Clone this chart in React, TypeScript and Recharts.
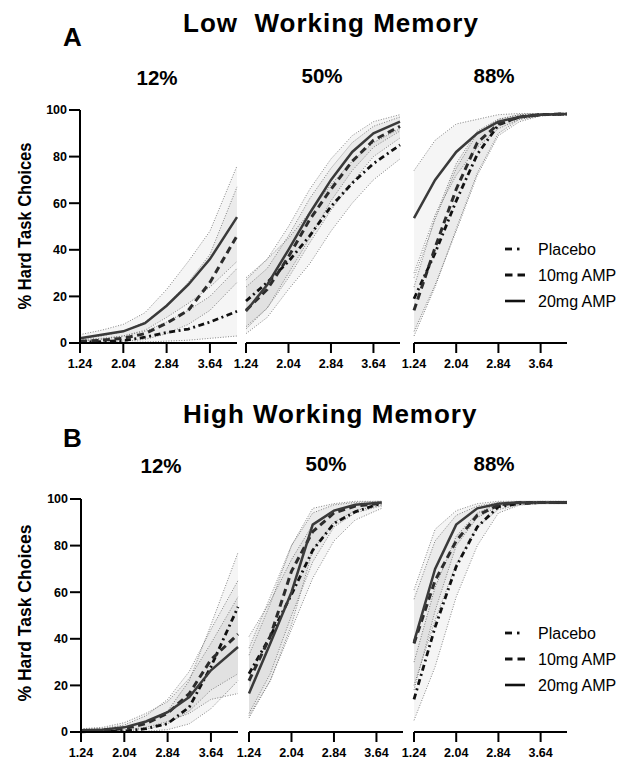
import React from 'react';
import { ComposedChart, Line, Area, XAxis, YAxis } from 'recharts';

const FONT = '"Liberation Sans", Arial, Helvetica, sans-serif';

// ---------- axis ticks / x positions ----------
const xTicks = [1.24, 2.04, 2.84, 3.64];
const yTicks = [0, 20, 40, 60, 80, 100];
const xsLong = [1.24, 1.64, 2.04, 2.44, 2.84, 3.24, 3.64, 4.14];
const xsShort = [1.24, 1.64, 2.04, 2.44, 2.84, 3.24, 3.64, 3.74];

const panelTitles = ['12%', '50%', '88%'];
const seriesNames = ['Placebo', '10mg AMP', '20mg AMP'];

// ---------- Low working memory ----------
const low12Placebo = { mean: [0.3, 0.6, 1, 2.5, 4.5, 6, 9, 13.6], lo: [0, 0, 0.2, 0.4, 0.8, 1.2, 2, 3], hi: [1.5, 2, 3, 5, 9, 14, 20, 32] };
const low12Amp10 = { mean: [0.7, 1.2, 2, 4, 8.5, 14, 26, 46], lo: [0.2, 0.4, 0.8, 1.5, 4, 8, 14, 26], hi: [2, 3, 5, 9, 16, 26, 38, 67] };
const low12Amp20 = { mean: [2, 3.5, 5, 8.5, 16, 25, 36, 54], lo: [0.8, 1.5, 3, 5.5, 11, 17, 24, 35], hi: [3.6, 5.5, 8, 13, 23, 35, 48, 76] };

const low50Placebo = { mean: [18, 26, 35, 46, 58.6, 68.6, 77, 85], lo: [4, 11, 23, 34, 48, 60, 70, 79], hi: [28, 36, 45, 56, 68, 78, 86, 92] };
const low50Amp10 = { mean: [14, 23, 37, 53, 66, 78, 87, 93], lo: [7, 15, 28, 43, 57, 69, 80, 88], hi: [24, 32, 46, 62, 75, 86, 93, 97] };
const low50Amp20 = { mean: [13.6, 25, 40, 55.7, 70, 82, 90, 95], lo: [6, 15, 30, 45, 61, 74, 84, 91], hi: [27, 36, 50, 66, 79, 89, 95, 98] };

const low88Placebo = { mean: [19, 38.6, 61, 81, 93.6, 97, 98, 98.3], lo: [5, 25, 48, 72, 89, 95, 97.5, 98], hi: [28, 53, 75, 90, 96, 98, 98.5, 98.5] };
const low88Amp10 = { mean: [14, 41, 66, 86, 94, 97, 98, 98.3], lo: [3, 24, 49, 73, 90, 96, 97.5, 98], hi: [24, 54, 77, 91, 96, 98, 98.5, 98.5] };
const low88Amp20 = { mean: [53.6, 70, 82, 90, 95, 97, 98, 98.3], lo: [30, 55, 72, 84, 92, 96, 97.5, 98], hi: [74, 87, 94, 96, 98, 98.5, 98.5, 98.5] };

// ---------- High working memory ----------
const high12Placebo = { mean: [0.1, 0.2, 0.4, 1.4, 3.6, 10.7, 28, 53.7], lo: [0, 0, 0.1, 0.3, 1, 3.5, 10, 22], hi: [1, 1.2, 2, 4, 9, 22, 46, 77] };
const high12Amp10 = { mean: [0.4, 0.8, 1.4, 3.6, 8, 16.5, 31, 42], lo: [0.1, 0.2, 0.4, 1.2, 3.5, 9, 18, 25], hi: [1.2, 1.5, 3, 7, 14, 26, 44, 65] };
const high12Amp20 = { mean: [0.7, 1, 2, 4.5, 8.5, 15, 26.5, 36.5], lo: [0.2, 0.4, 0.8, 2, 4.5, 8, 14, 16.5], hi: [1.4, 2, 4, 8, 13, 23, 38, 58] };

const high50Placebo = { mean: [25, 41, 59, 78, 89.5, 94.5, 97.5, 98], lo: [7, 22, 44, 66, 82, 91, 95, 96], hi: [41, 56, 74, 89, 95, 97.5, 98.5, 98.7] };
const high50Amp10 = { mean: [22, 41, 69, 86, 94, 97, 98, 98.3], lo: [8, 25, 50, 73, 88, 94, 96.5, 97], hi: [36, 58, 80, 94, 97.5, 98.5, 99, 99] };
const high50Amp20 = { mean: [16.5, 38, 60, 89, 95, 97.5, 98.3, 98.5], lo: [6, 22, 46, 78, 90, 95, 97, 97.5], hi: [33, 55, 80, 96, 98, 99, 99, 99] };

const high88Placebo = { mean: [14, 45, 71, 88, 96.7, 98, 98.5, 98.5], lo: [5, 28, 58, 80, 94, 97.4, 98, 98], hi: [30, 62, 84, 94, 98, 98.7, 99, 99] };
const high88Amp10 = { mean: [38, 65, 82, 93, 97.4, 98.5, 98.5, 98.5], lo: [20, 48, 72, 88, 95.5, 97.5, 98, 98], hi: [57, 82, 93, 97, 98.5, 99, 99, 99] };
const high88Amp20 = { mean: [38.7, 70, 89, 96, 98, 98.5, 98.5, 98.5], lo: [18, 52, 80, 92, 97, 98, 98.3, 98.3], hi: [61, 87, 95, 98, 99, 99, 99, 99] };

type Group = { mean: number[]; lo: number[]; hi: number[] };

function buildRows(xs: number[], p: Group, a10: Group, a20: Group) {
  return xs.map((x, i) => ({
    x,
    p: p.mean[i],
    a10: a10.mean[i],
    a20: a20.mean[i],
    pB: [p.lo[i], p.hi[i]],
    a10B: [a10.lo[i], a10.hi[i]],
    a20B: [a20.lo[i], a20.hi[i]],
  }));
}

const STYLE = {
  p: { color: '#111', dash: '6 3.5 2 3.5', width: 2.8 },
  a10: { color: '#2c2c2c', dash: '7 4.5', width: 3 },
  a20: { color: '#3a3a3a', dash: undefined as string | undefined, width: 2.5 },
};

const YW = 50;
const MT = 10;
const MR = 5;
const XH = 40;

function Panel(props: { x0: number; y100: number; plotW: number; plotH: number; rows: any[]; showY: boolean }) {
  const { x0, y100, plotW, plotH, rows, showY } = props;
  const tickStyle = { fill: '#000', fontSize: 12.5, fontWeight: 'bold', fontFamily: FONT };
  const band = (key: string) => (
    <Area
      key={key}
      dataKey={key}
      type="linear"
      stroke="#666"
      strokeWidth={0.8}
      strokeDasharray="1 1.6"
      fill="#000"
      fillOpacity={0.04}
      isAnimationActive={false}
      dot={false}
      activeDot={false}
    />
  );
  const line = (key: 'p' | 'a10' | 'a20') => (
    <Line
      key={key}
      dataKey={key}
      type="linear"
      stroke={STYLE[key].color}
      strokeWidth={STYLE[key].width}
      strokeDasharray={STYLE[key].dash}
      dot={false}
      activeDot={false}
      isAnimationActive={false}
    />
  );
  return (
    <div style={{ position: 'absolute', left: x0 - YW, top: y100 - MT }}>
      <ComposedChart
        width={plotW + YW + MR}
        height={plotH + MT + XH}
        data={rows}
        margin={{ top: MT, right: MR, bottom: 0, left: showY ? 0 : YW }}
      >
        <XAxis
          dataKey="x"
          type="number"
          domain={[1.24, 4.14]}
          ticks={xTicks}
          interval={0}
          tickFormatter={(v: number) => v.toFixed(2)}
          tick={tickStyle}
          tickSize={10}
          tickMargin={6}
          height={XH}
          axisLine={{ stroke: '#000', strokeWidth: 2 }}
          tickLine={{ stroke: '#000', strokeWidth: 2 }}
        />
        <YAxis
          type="number"
          domain={[0, 100]}
          ticks={yTicks}
          interval={0}
          hide={!showY}
          width={YW}
          tick={tickStyle}
          tickSize={11}
          tickMargin={2}
          axisLine={{ stroke: '#000', strokeWidth: 2 }}
          tickLine={{ stroke: '#000', strokeWidth: 2 }}
        />
        {band('pB')}
        {band('a10B')}
        {band('a20B')}
        {line('p')}
        {line('a10')}
        {line('a20')}
      </ComposedChart>
    </div>
  );
}

function LegendBlock(props: { x: number; y: number }) {
  const { x, y } = props;
  const rowGap = 26;
  return (
    <g>
      {seriesNames.map((name, i) => {
        const cy = y + i * rowGap;
        let sample;
        if (i === 0) {
          sample = (
            <g>
              <line x1={x} y1={cy} x2={x + 7} y2={cy} stroke="#111" strokeWidth={2.8} />
              <line x1={x + 12} y1={cy} x2={x + 14.5} y2={cy} stroke="#111" strokeWidth={2.8} />
            </g>
          );
        } else if (i === 1) {
          sample = (
            <g>
              <line x1={x} y1={cy} x2={x + 7.5} y2={cy} stroke="#111" strokeWidth={3} />
              <line x1={x + 12.5} y1={cy} x2={x + 20} y2={cy} stroke="#111" strokeWidth={3} />
            </g>
          );
        } else {
          sample = <line x1={x} y1={cy} x2={x + 20} y2={cy} stroke="#111" strokeWidth={2.6} />;
        }
        return (
          <g key={name}>
            {sample}
            <text x={x + 33} y={cy + 5.5} fontSize={16} fontFamily={FONT} fill="#000">
              {name}
            </text>
          </g>
        );
      })}
    </g>
  );
}

export default function App() {
  const lowRows = [
    buildRows(xsLong, low12Placebo, low12Amp10, low12Amp20),
    buildRows(xsLong, low50Placebo, low50Amp10, low50Amp20),
    buildRows(xsLong, low88Placebo, low88Amp10, low88Amp20),
  ];
  const highRows = [
    buildRows(xsLong, high12Placebo, high12Amp10, high12Amp20),
    buildRows(xsShort, high50Placebo, high50Amp10, high50Amp20),
    buildRows(xsLong, high88Placebo, high88Amp10, high88Amp20),
  ];
  const topX0 = [80, 246, 414];
  const topW = [157, 154, 153];
  const botX0 = [81, 249, 414];
  const botW = [157, 154, 153];
  const topTitleX = [157, 322, 494];
  const botTitleX = [161, 326, 494];

  return (
    <div style={{ position: 'absolute', left: 0, top: 0, width: 619, height: 760, background: '#fff', fontFamily: FONT }}>
      {lowRows.map((rows, i) => (
        <Panel key={'l' + i} x0={topX0[i]} y100={110} plotW={topW[i]} plotH={233} rows={rows} showY={i === 0} />
      ))}
      {highRows.map((rows, i) => (
        <Panel key={'h' + i} x0={botX0[i]} y100={499} plotW={botW[i]} plotH={233} rows={rows} showY={i === 0} />
      ))}
      <svg width={619} height={760} style={{ position: 'absolute', left: 0, top: 0, pointerEvents: 'none' }}>
        <text x={183} y={32} fontSize={26} fontWeight="bold" fontFamily={FONT} letterSpacing={1} style={{ whiteSpace: 'pre' }}>
          {'Low  Working Memory'}
        </text>
        <text x={63} y={46} fontSize={26} fontWeight="bold" fontFamily={FONT}>A</text>
        {panelTitles.map((t, i) => (
          <text key={'tt' + i} x={topTitleX[i]} y={i === 0 ? 85 : 83} fontSize={20.5} fontWeight="bold" fontFamily={FONT} textAnchor="middle">
            {t}
          </text>
        ))}
        <text x={183} y={423} fontSize={26} fontWeight="bold" fontFamily={FONT} letterSpacing={1}>
          High Working Memory
        </text>
        <text x={63} y={447} fontSize={26} fontWeight="bold" fontFamily={FONT}>B</text>
        {panelTitles.map((t, i) => (
          <text key={'bt' + i} x={botTitleX[i]} y={i === 0 ? 473 : 471} fontSize={20.5} fontWeight="bold" fontFamily={FONT} textAnchor="middle">
            {t}
          </text>
        ))}
        <text x={31} y={226} fontSize={19} fontWeight="bold" fontFamily={FONT} textAnchor="middle" textLength={167} lengthAdjust="spacingAndGlyphs" transform="rotate(-90 31 226)">
          % Hard Task Choices
        </text>
        <text x={31} y={613} fontSize={19} fontWeight="bold" fontFamily={FONT} textAnchor="middle" textLength={177} lengthAdjust="spacingAndGlyphs" transform="rotate(-90 31 613)">
          % Hard Task Choices
        </text>
        <LegendBlock x={505} y={249} />
        <LegendBlock x={505} y={633} />
      </svg>
    </div>
  );
}
